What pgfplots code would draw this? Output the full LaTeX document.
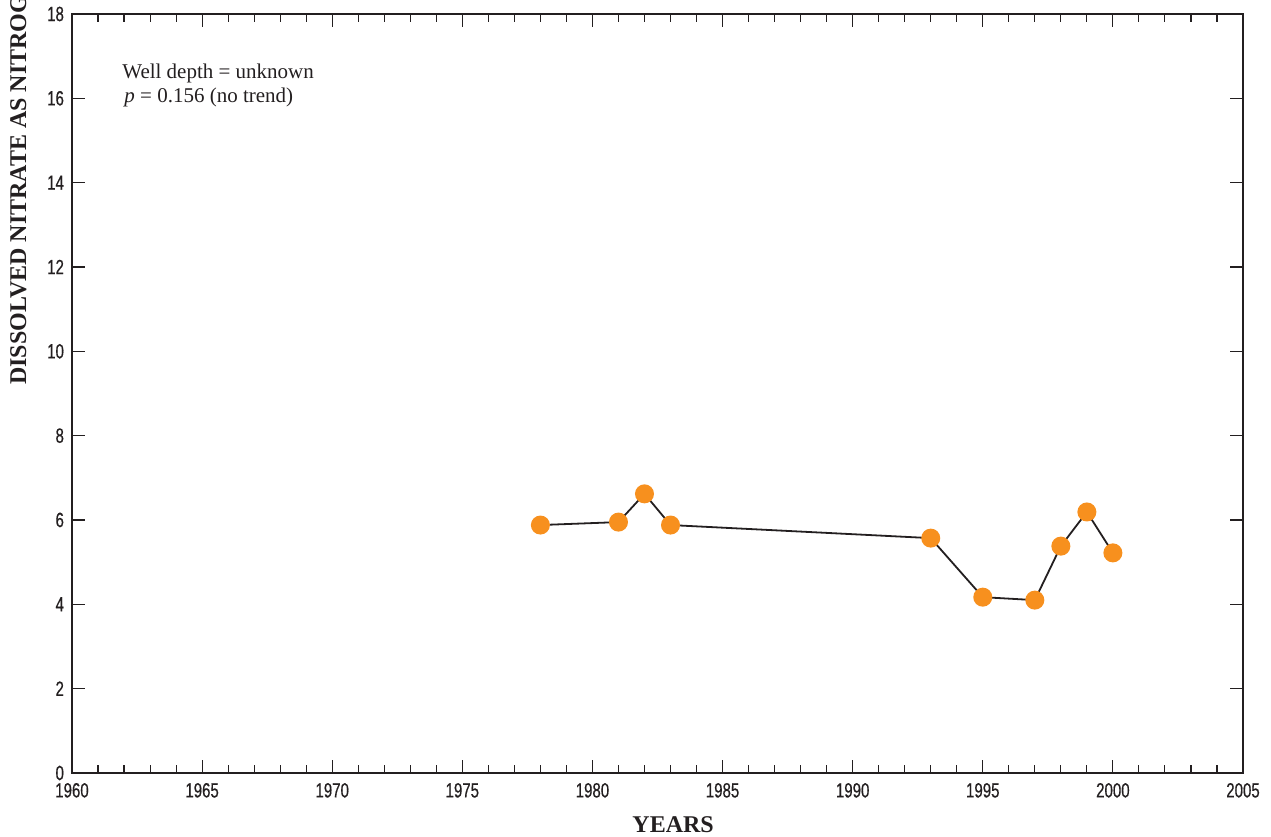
\documentclass[border=0pt]{standalone}
\usepackage{fontspec}
\setmainfont{Liberation Serif}
\newfontfamily\condsans[FakeStretch=0.73,FakeBold=0.5]{Liberation Sans}
\usepackage{pgfplots}
\pgfplotsset{compat=1.18}
\definecolor{usgsorange}{HTML}{F7901E}
\definecolor{inkgray}{HTML}{231F20}

\begin{document}
\begin{tikzpicture}
\begin{axis}[
  scale only axis, width=585.5pt, height=379.5pt,
  xmin=1960, xmax=2005, ymin=0, ymax=18,
  xtick={1960,1965,...,2005}, minor x tick num=4,
  ytick={0,2,...,18},
  major tick length=6.5pt, minor tick length=4pt,
  tick style={inkgray, line width=0.55pt},
  axis line style={inkgray, line width=0.75pt},
  ticklabel style={font=\condsans\fontsize{10.3}{12}\selectfont, text=inkgray},
  xticklabel style={yshift=-1.5pt},
  yticklabel style={xshift=-0.5pt},
  /pgf/number format/assume math mode=true,
  /pgf/number format/1000 sep={},
  clip=false,
]
\addplot[inkgray, line width=0.9pt, mark=*, mark size=4.3pt,
  mark options={fill=usgsorange, draw=usgsorange}] coordinates {
  (1978,5.88) (1981,5.95) (1982,6.62) (1983,5.88) (1993,5.57)
  (1995,4.17) (1997,4.10) (1998,5.38) (1999,6.19) (2000,5.22)
};
\coordinate (bl) at (rel axis cs:0,0);
\coordinate (tr) at (rel axis cs:1,1);
\node[anchor=west, font=\fontsize{10.5}{12}\selectfont, text=inkgray, inner sep=0pt] at (axis cs:1961.92,16.6) {Well depth = unknown};
\node[anchor=west, font=\fontsize{10.5}{12}\selectfont, text=inkgray, inner sep=0pt] at (axis cs:1962.0,16.03) {\textit{p} = 0.156 (no trend)};
\node[font=\bfseries\fontsize{12}{14}\selectfont, text=inkgray, inner sep=0pt] at ([yshift=-26pt]axis cs:1983.1,0) {YEARS};
\node[rotate=90, anchor=west, font=\bfseries\fontsize{12}{14}\selectfont, text=inkgray, inner sep=0pt] at ([xshift=-26pt]rel axis cs:0,0.511) {DISSOLVED NITRATE AS NITROGEN, IN MILLIGRAMS PER LITER};
\end{axis}
\pgfresetboundingbox
\useasboundingbox ([shift={(-36pt,-32pt)}]bl) rectangle ([shift={(14pt,7pt)}]tr);
\end{tikzpicture}
\end{document}
